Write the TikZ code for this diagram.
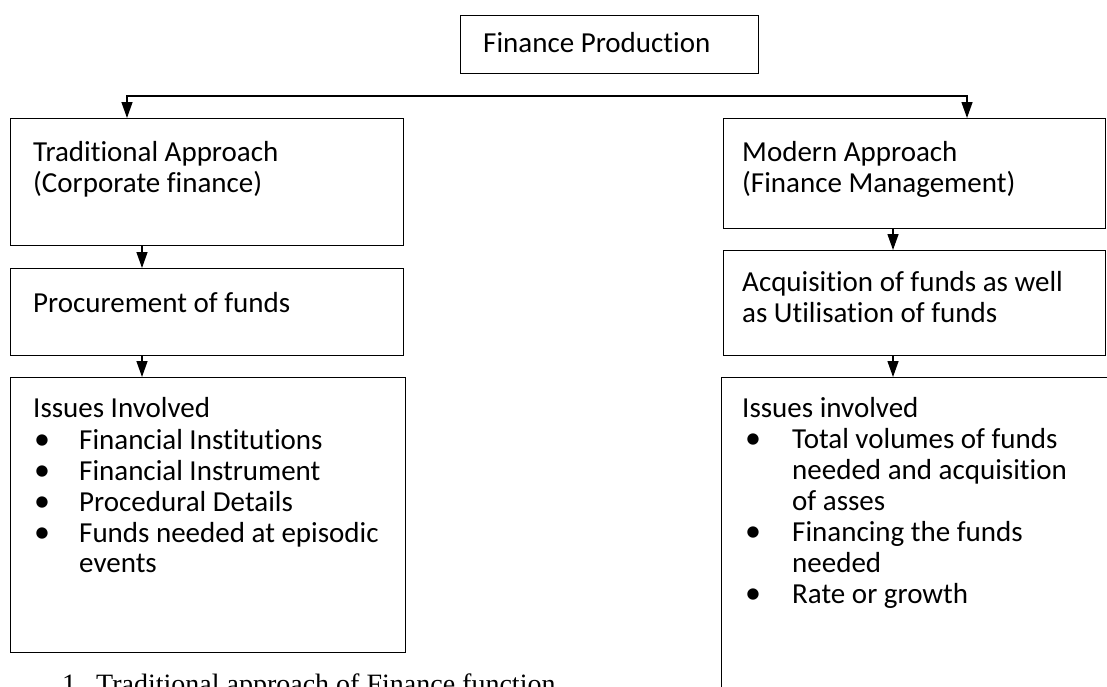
\documentclass[tikz,border=0pt]{standalone}
\usepackage{fontspec}
\setmainfont{Carlito}[Ligatures=NoCommon]
\newfontfamily\serifx{Liberation Serif}
\usetikzlibrary{arrows.meta}
\begin{document}
\begin{tikzpicture}[x=1pt,y=-1pt,
  box/.style={draw, line width=1.3pt, rectangle, inner sep=0pt, anchor=north west},
  txt/.style={anchor=base west, inner sep=0pt, font=\fontsize{29}{31}\selectfont},
  tip/.tip={Triangle[length=16pt,width=11pt]},
  arr/.style={line width=1.3pt, -tip},
  bul/.style={anchor=base west, inner sep=0pt, font=\fontsize{32}{31}\selectfont}]
\useasboundingbox (0,0) rectangle (1107,686);
\clip (0,0) rectangle (1107,686);
\fill[white] (0,0) rectangle (1107,686);

% boxes
\node[box, minimum width=298pt, minimum height=58pt] (fp) at (460,15) {};
\node[box, minimum width=393pt, minimum height=127pt] (trad) at (10,118) {};
\node[box, minimum width=393pt, minimum height=87pt] (proc) at (10,268) {};
\node[box, minimum width=395pt, minimum height=275pt] (issL) at (10,377) {};
\node[box, minimum width=382pt, minimum height=110pt] (mod) at (723,118) {};
\node[box, minimum width=382pt, minimum height=105pt] (acq) at (723,250) {};
\node[box, minimum width=420pt, minimum height=400pt] (issR) at (721,377) {};

% texts
\node[txt] (fpt) at (483,52) {Finance Production};
\node[txt] (trad1) at (33,161) {Traditional Approach};
\node[txt] (trad2) at (33,192) {(Corporate finance)};
\node[txt] (proct) at (33,312) {Procurement of funds};
\node[txt] (iL0) at (33,417) {Issues Involved};
\node[bul] (bL1) at (34,449) {\textbullet};
\node[txt] (iL1) at (79,449) {Financial Institutions};
\node[bul] (bL2) at (34,480) {\textbullet};
\node[txt] (iL2) at (79,480) {Financial Instrument};
\node[bul] (bL3) at (34,511) {\textbullet};
\node[txt] (iL3) at (79,511) {Procedural Details};
\node[bul] (bL4) at (34,542) {\textbullet};
\node[txt] (iL4) at (79,542) {Funds needed at episodic};
\node[txt] (iL5) at (79,572) {events};

\node[txt] (mod1) at (742,161) {Modern Approach};
\node[txt] (mod2) at (742,192) {(Finance Management)};
\node[txt] (acq1) at (742,291) {Acquisition of funds as well};
\node[txt] (acq2) at (742,322) {as Utilisation of funds};
\node[txt] (iR0) at (742,417) {Issues involved};
\node[bul] (bR1) at (745,448) {\textbullet};
\node[txt] (iR1) at (792,448) {Total volumes of funds};
\node[txt] (iR2) at (792,479) {needed and acquisition};
\node[txt] (iR3) at (792,510) {of asses};
\node[bul] (bR4) at (745,541) {\textbullet};
\node[txt] (iR4) at (792,541) {Financing the funds};
\node[txt] (iR5) at (792,572) {needed};
\node[bul] (bR6) at (745,603) {\textbullet};
\node[txt] (iR6) at (792,603) {Rate or growth};

\node[anchor=base west, inner sep=0pt, font=\serifx\fontsize{28}{30}\selectfont] (cap1) at (62,693) {1.};
\node[anchor=base west, inner sep=0pt, font=\serifx\fontsize{28}{30}\selectfont] (cap2) at (96,693) {Traditional approach of Finance function};

% connectors
\coordinate (jl) at (127,96);
\coordinate (jr) at (967,96);
\draw[line width=1.3pt, tip-tip] (trad.north -| jl) -- (jl) -- (jr) -- (mod.north -| jr);
\coordinate (la) at (142,0);
\coordinate (ra) at (893,0);
\draw[arr] (trad.south -| la) -- (proc.north -| la);
\draw[arr] (proc.south -| la) -- (issL.north -| la);
\draw[arr] (mod.south -| ra) -- (acq.north -| ra);
\draw[arr] (acq.south -| ra) -- (issR.north -| ra);
\end{tikzpicture}
\end{document}
